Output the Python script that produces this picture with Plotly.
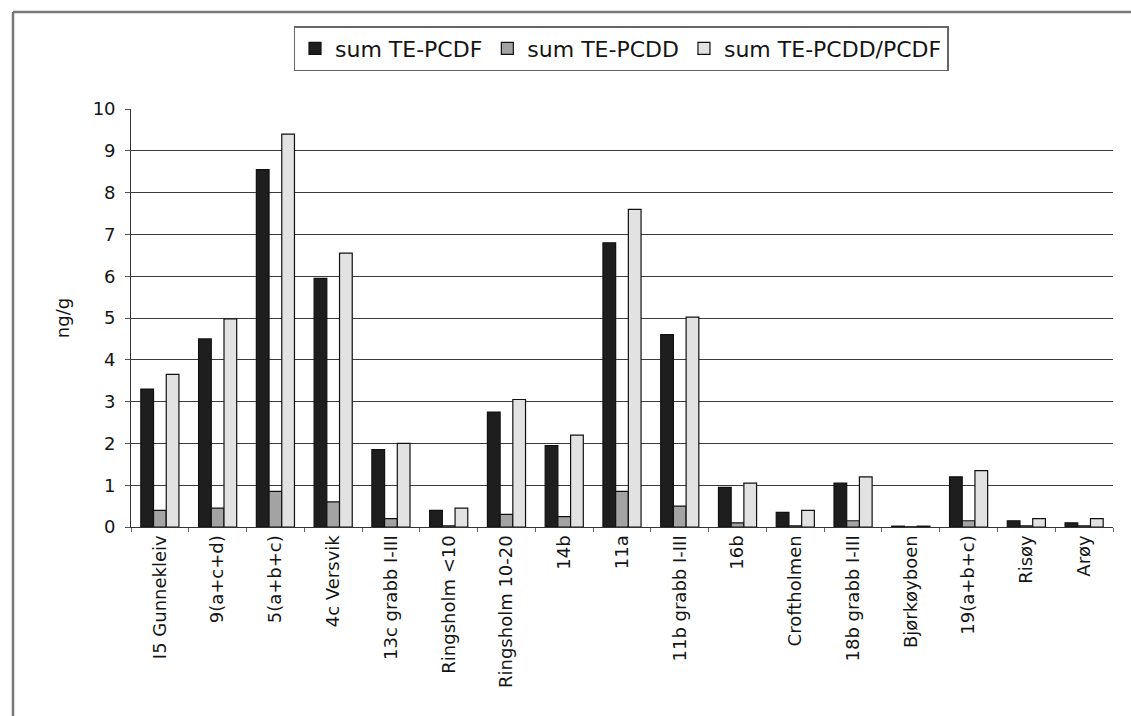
import plotly.graph_objects as go

# Sampling stations
stations = [
    "I5 Gunnekleiv", "9(a+c+d)", "5(a+b+c)", "4c Versvik", "13c grabb I-III",
    "Ringsholm <10", "Ringsholm 10-20", "14b", "11a", "11b grabb I-III",
    "16b", "Croftholmen", "18b grabb I-III", "Bjørkøyboen", "19(a+b+c)",
    "Risøy", "Arøy",
]

# TE values, ng/g
te_pcdf = [3.3, 4.5, 8.55, 5.95, 1.85, 0.4, 2.75, 1.95, 6.8, 4.6,
           0.95, 0.35, 1.05, 0.02, 1.2, 0.15, 0.1]
te_pcdd = [0.4, 0.45, 0.85, 0.6, 0.2, 0.03, 0.3, 0.25, 0.85, 0.5,
           0.1, 0.03, 0.15, 0.005, 0.15, 0.03, 0.03]
te_total = [3.65, 4.98, 9.4, 6.55, 2.0, 0.45, 3.05, 2.2, 7.6, 5.02,
            1.05, 0.4, 1.2, 0.02, 1.35, 0.2, 0.2]

series_names = ["sum TE-PCDF", "sum TE-PCDD", "sum TE-PCDD/PCDF"]
series_colors = ["#1e1e1e", "#a3a3a3", "#e2e2e2"]

FONT = "DejaVu Sans, Verdana, sans-serif"
INK = "#141414"

fig = go.Figure()
for name, vals, col in zip(series_names, [te_pcdf, te_pcdd, te_total], series_colors):
    fig.add_trace(go.Bar(
        x=stations, y=vals, name=name,
        marker=dict(color=col, line=dict(color="#111111", width=1.2)),
    ))

L, R, T, B = 131, 18, 109, 189
PW, PH = 1131 - L - R, 716 - T - B

fig.update_layout(
    width=1131, height=716,
    margin=dict(l=L, r=R, t=T, b=B),
    paper_bgcolor="white", plot_bgcolor="white",
    barmode="group", bargap=0.34, bargroupgap=0,
    font=dict(family=FONT, color=INK),
    showlegend=True,
    legend=dict(
        orientation="h", x=(621 - L) / PW, xanchor="center",
        y=(716 - B - 26) / PH, yanchor="top",
        font=dict(size=22, color=INK),
        bordercolor="#666666", borderwidth=1.5, bgcolor="white",
        itemwidth=30, traceorder="normal",
    ),
    xaxis=dict(
        type="category", tickangle=-90, tickson="boundaries",
        ticks="outside", ticklen=4, tickcolor="#666666",
        showline=True, linecolor="#333333", linewidth=1.2,
        showgrid=False, tickfont=dict(size=18, color=INK),
    ),
    yaxis=dict(
        range=[0, 10], dtick=1, ticks="outside", ticklen=5, tickcolor="#555555",
        showline=True, linecolor="#333333", linewidth=1.2,
        showgrid=True, gridcolor="#3c3c3c", gridwidth=1.3,
        tickfont=dict(size=18, color=INK), ticksuffix=" ",
        title=dict(text="ng/g", font=dict(size=18, color=INK), standoff=18),
        zeroline=False,
    ),
)

# Outer chart frame (top and left edges)
fig.add_shape(type="line", xref="paper", yref="paper",
              x0=(13 - L) / PW, x1=(1131 - L) / PW,
              y0=(716 - B - 12) / PH, y1=(716 - B - 12) / PH,
              line=dict(color="#777777", width=2.5))
fig.add_shape(type="line", xref="paper", yref="paper",
              x0=(13 - L) / PW, x1=(13 - L) / PW,
              y0=(716 - B - 12) / PH, y1=-B / PH,
              line=dict(color="#777777", width=2.5))

fig.write_html("out.html")
